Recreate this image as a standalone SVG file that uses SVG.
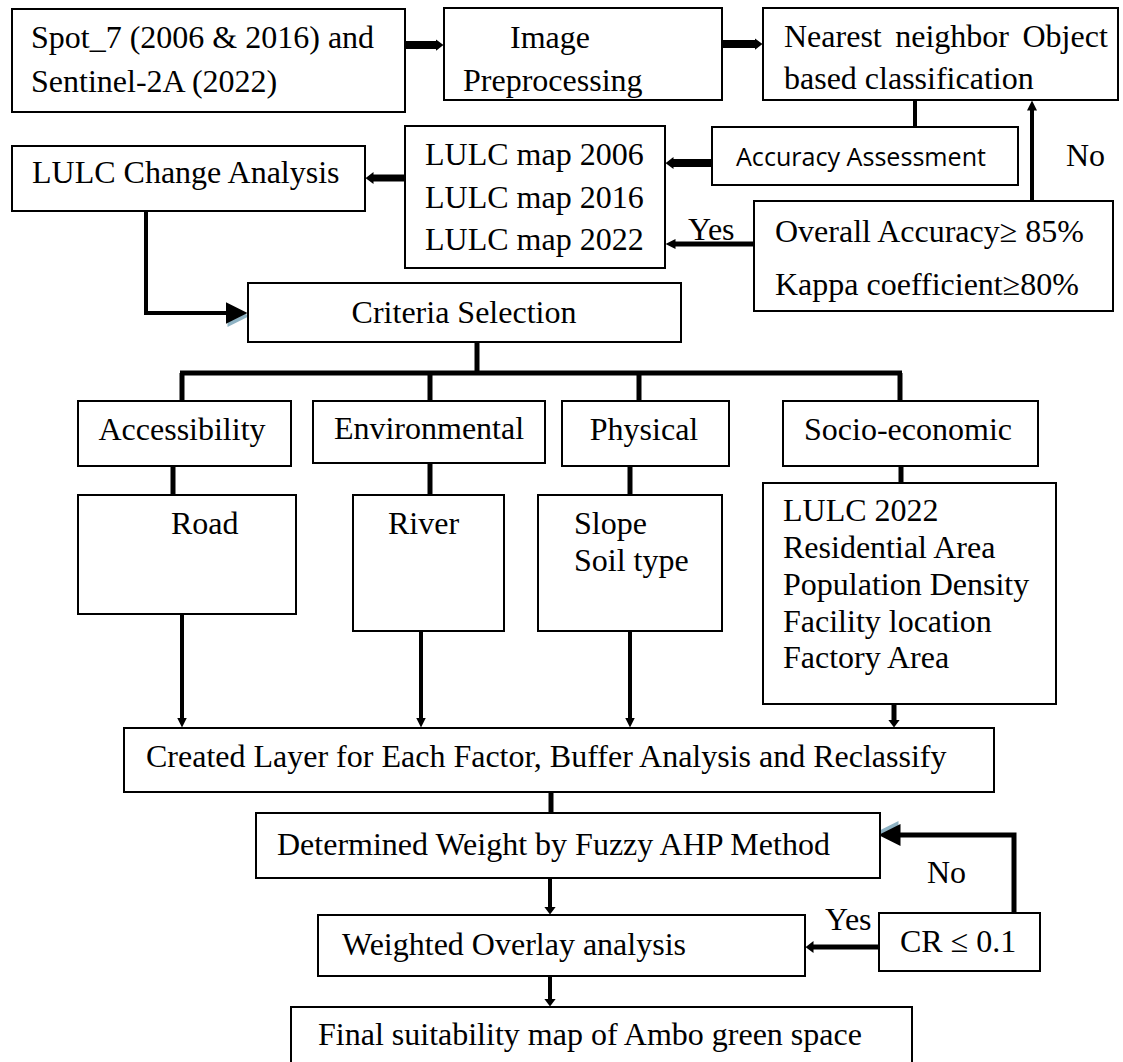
<svg xmlns="http://www.w3.org/2000/svg" width="1123" height="1062" viewBox="0 0 1123 1062">
<style>
.box{fill:#fff;stroke:#000;stroke-width:2}
.t{font-family:"Liberation Serif","Times New Roman",serif;font-size:32px;fill:#000}
.m{text-anchor:middle}
.s{font-family:"Open Sans","Liberation Sans",sans-serif;font-size:26px;fill:#000}
.c{stroke:#000;fill:none}
</style>
<defs>
<marker id="hs" viewBox="0 0 8 12" markerWidth="8" markerHeight="12" refX="0.5" refY="6" orient="auto" markerUnits="userSpaceOnUse"><path d="M0,0 L8,6 L0,12 z" fill="#000"/></marker>
<marker id="hm" viewBox="0 0 10 10" markerWidth="10" markerHeight="10" refX="0.5" refY="5" orient="auto" markerUnits="userSpaceOnUse"><path d="M0,0 L10,5 L0,10 z" fill="#000"/></marker>
<marker id="hb" viewBox="0 0 25 26" markerWidth="25" markerHeight="26" refX="0.5" refY="11" orient="auto" markerUnits="userSpaceOnUse"><path d="M2,3 L24,14 L2,25 z" fill="#8fb3c4"/><path d="M0,0 L22,11 L0,22 z" fill="#000"/></marker>
</defs>
<rect width="1123" height="1062" fill="#fff"/>
<g id="connectors">
<line class="c" x1="405" y1="45" x2="436" y2="45" stroke-width="8" marker-end="url(#hs)"/>
<line class="c" x1="722" y1="44" x2="755" y2="44" stroke-width="8" marker-end="url(#hs)"/>
<line class="c" x1="915" y1="100" x2="915" y2="127" stroke-width="4"/>
<line class="c" x1="712" y1="163" x2="673" y2="163" stroke-width="8" marker-end="url(#hs)"/>
<line class="c" x1="1032" y1="201" x2="1032" y2="110" stroke-width="4" marker-end="url(#hm)"/>
<line class="c" x1="754" y1="244" x2="675" y2="244" stroke-width="5" marker-end="url(#hm)"/>
<line class="c" x1="405" y1="178" x2="373" y2="178" stroke-width="7" marker-end="url(#hs)"/>
<path class="c" d="M146,211 V313 H226" stroke-width="4" marker-end="url(#hb)"/>
<line class="c" x1="477" y1="342" x2="477" y2="373" stroke-width="5"/>
<line class="c" x1="180" y1="373" x2="902" y2="373" stroke-width="5"/>
<line class="c" x1="182" y1="373" x2="182" y2="401" stroke-width="5"/>
<line class="c" x1="430" y1="373" x2="430" y2="401" stroke-width="5"/>
<line class="c" x1="639" y1="373" x2="639" y2="401" stroke-width="5"/>
<line class="c" x1="900" y1="373" x2="900" y2="401" stroke-width="5"/>
<line class="c" x1="173" y1="466" x2="173" y2="495" stroke-width="5"/>
<line class="c" x1="430" y1="463" x2="430" y2="495" stroke-width="5"/>
<line class="c" x1="630" y1="466" x2="630" y2="495" stroke-width="5"/>
<line class="c" x1="901" y1="466" x2="901" y2="483" stroke-width="5"/>
<line class="c" x1="182" y1="614" x2="182" y2="718" stroke-width="4" marker-end="url(#hm)"/>
<line class="c" x1="421" y1="631" x2="421" y2="718" stroke-width="4" marker-end="url(#hm)"/>
<line class="c" x1="630" y1="631" x2="630" y2="718" stroke-width="4" marker-end="url(#hm)"/>
<line class="c" x1="894" y1="704" x2="894" y2="720" stroke-width="5" marker-end="url(#hs)"/>
<line class="c" x1="551" y1="792" x2="551" y2="813" stroke-width="5"/>
<line class="c" x1="550" y1="878" x2="550" y2="907" stroke-width="4" marker-end="url(#hs)"/>
<line class="c" x1="550" y1="976" x2="550" y2="999" stroke-width="4" marker-end="url(#hs)"/>
<line class="c" x1="879" y1="947" x2="813" y2="947" stroke-width="5" marker-end="url(#hs)"/>
<path class="c" d="M1014,913 V835 H900" stroke-width="5" marker-end="url(#hb)"/>
<text class="t" x="688" y="240">Yes</text>
<text class="t" x="1066" y="166">No</text>
<text class="t" x="927" y="883">No</text>
<text class="t" x="825" y="930">Yes</text>
</g>
<g id="n1"><rect class="box" x="12" y="9" width="393" height="103"/><text class="t" x="31" y="48">Spot_7 (2006 &amp; 2016) and</text><text class="t" x="31" y="92">Sentinel-2A (2022)</text></g>
<g id="n2"><rect class="box" x="444" y="8" width="278" height="92"/><text class="t" x="510" y="48">Image</text><text class="t" x="463" y="91">Preprocessing</text></g>
<g id="n3"><rect class="box" x="763" y="8" width="355" height="92"/><text class="t" x="784" y="47" word-spacing="5.5">Nearest neighbor Object</text><text class="t" x="784" y="89">based classification</text></g>
<g id="n4"><rect class="box" x="712" y="127" width="306" height="58"/><text class="s" x="736" y="166" textLength="250" lengthAdjust="spacingAndGlyphs">Accuracy Assessment</text></g>
<g id="n5"><rect class="box" x="12" y="146" width="353" height="65"/><text class="t" x="32" y="183">LULC Change Analysis</text></g>
<g id="n6"><rect class="box" x="405" y="126" width="260" height="142"/><text class="t" x="425" y="165">LULC map 2006</text><text class="t" x="425" y="208">LULC map 2016</text><text class="t" x="425" y="250">LULC map 2022</text></g>
<g id="n7"><rect class="box" x="754" y="201" width="359" height="110"/><text class="t" x="775" y="242">Overall Accuracy≥ 85%</text><text class="t" x="775" y="295">Kappa coefficient≥80%</text></g>
<g id="n8"><rect class="box" x="248" y="283" width="433" height="59"/><text class="t m" x="464" y="323">Criteria Selection</text></g>
<g id="n9"><rect class="box" x="78" y="401" width="213" height="65"/><text class="t m" x="182" y="440">Accessibility</text></g>
<g id="n10"><rect class="box" x="313" y="401" width="232" height="62"/><text class="t m" x="429" y="439">Environmental</text></g>
<g id="n11"><rect class="box" x="562" y="401" width="167" height="65"/><text class="t m" x="644" y="440">Physical</text></g>
<g id="n12"><rect class="box" x="783" y="401" width="255" height="65"/><text class="t m" x="908" y="440">Socio-economic</text></g>
<g id="n13"><rect class="box" x="78" y="495" width="218" height="119"/><text class="t" x="171" y="534">Road</text></g>
<g id="n14"><rect class="box" x="353" y="495" width="151" height="136"/><text class="t" x="388" y="534">River</text></g>
<g id="n15"><rect class="box" x="538" y="495" width="184" height="136"/><text class="t" x="574" y="534">Slope</text><text class="t" x="574" y="571">Soil type</text></g>
<g id="n16"><rect class="box" x="763" y="483" width="293" height="221"/><text class="t" x="783" y="521">LULC 2022</text><text class="t" x="783" y="558">Residential Area</text><text class="t" x="783" y="595">Population Density</text><text class="t" x="783" y="632">Facility location</text><text class="t" x="783" y="668">Factory Area</text></g>
<g id="n17"><rect class="box" x="124" y="728" width="870" height="64"/><text class="t" x="146" y="767">Created Layer for Each Factor, Buffer Analysis and Reclassify</text></g>
<g id="n18"><rect class="box" x="256" y="813" width="624" height="65"/><text class="t" x="277" y="855">Determined Weight by Fuzzy AHP Method</text></g>
<g id="n19"><rect class="box" x="318" y="915" width="487" height="61"/><text class="t" x="342" y="955">Weighted Overlay analysis</text></g>
<g id="n20"><rect class="box" x="879" y="913" width="161" height="58"/><text class="t" x="900" y="952">CR ≤ 0.1</text></g>
<g id="n21"><rect class="box" x="291" y="1007" width="621" height="70"/><text class="t" x="318" y="1045">Final suitability map of Ambo green space</text></g>
</svg>
